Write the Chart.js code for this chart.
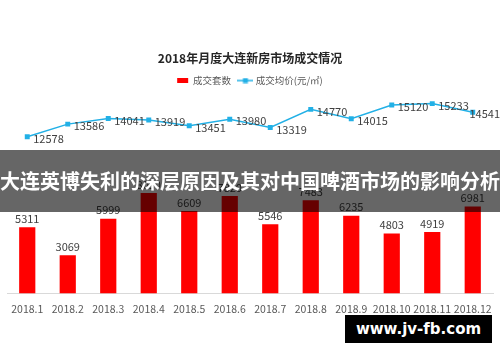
<!DOCTYPE html>
<html>
<head>
<meta charset="utf-8">
<script src="https://cdn.jsdelivr.net/npm/chart.js@4"></script>
<style>
    html, body { margin: 0; padding: 0; background: #fff; }
    #contenedor { position: relative; width: 500px; height: 362px; overflow: hidden; }
    #banda {
        position: absolute; left: 0; top: 150px; width: 500px; height: 62px;
        background: rgba(0, 0, 0, 0.6); color: #fff;
        font: bold 20px "Noto Sans CJK SC"; line-height: 62px;
        text-align: center; white-space: nowrap;
    }
    #marca {
        position: absolute; left: 345px; top: 315px; width: 147px; height: 28px;
        background: #000; color: #fff;
        font: bold 15px "DejaVu Sans"; line-height: 28px; text-align: center;
    }
</style>
</head>
<body>
<div id="contenedor">
    <canvas id="grafico" width="500" height="362"></canvas>
    <div id="banda">大连英博失利的深层原因及其对中国啤酒市场的影响分析</div>
    <div id="marca">www.jv-fb.com</div>
</div>
<script>
// Datos del gráfico
const meses = ['2018.1', '2018.2', '2018.3', '2018.4', '2018.5', '2018.6', '2018.7', '2018.8', '2018.9', '2018.10', '2018.11', '2018.12'];
const ventas = [5311, 3069, 5999, 8050, 6609, 7820, 5546, 7483, 6235, 4803, 4919, 6981];
const precios = [12578, 13586, 14041, 13919, 13451, 13980, 13319, 14770, 14015, 15120, 15233, 14541];
const nombres = ['成交套数', '成交均价(元/㎡)'];
const titulo = '2018年月度大连新房市场成交情况';

const rojo = '#ff0000';
const azul = '#22b0e6';
const fuente = '"Noto Sans CJK SC"';

// Icono de la leyenda para la línea (línea con marcador cuadrado)
const icono = document.createElement('canvas');
icono.width = 16;
icono.height = 6;
const ic = icono.getContext('2d');
ic.strokeStyle = azul;
ic.lineWidth = 1.5;
ic.beginPath();
ic.moveTo(0, 3);
ic.lineTo(16, 3);
ic.stroke();
ic.fillStyle = azul;
ic.fillRect(5.5, 0.5, 5, 5);

// Etiquetas de valores sobre barras y puntos
const etiquetas = {
    id: 'etiquetas',
    afterDatasetsDraw(chart) {
        const ctx = chart.ctx;
        ctx.save();
        ctx.font = '11px ' + fuente;
        ctx.fillStyle = '#404040';
        chart.getDatasetMeta(0).data.forEach((barra, i) => {
            ctx.textAlign = 'center';
            ctx.textBaseline = 'bottom';
            ctx.fillText(ventas[i], barra.x, barra.y - 3);
        });
        chart.getDatasetMeta(1).data.forEach((punto, i) => {
            const texto = String(precios[i]);
            const ancho = ctx.measureText(texto).width;
            const x = Math.min(punto.x + 6, chart.width - ancho);
            ctx.textAlign = 'left';
            ctx.textBaseline = 'middle';
            ctx.fillText(texto, x, punto.y + 2);
        });
        ctx.restore();
    }
};

const ctx = document.getElementById('grafico').getContext('2d');
new Chart(ctx, {
    type: 'bar',
    data: {
        labels: meses,
        datasets: [{
            type: 'bar',
            label: nombres[0],
            data: ventas,
            backgroundColor: rojo,
            pointStyle: 'rect',
            barPercentage: 0.8,
            categoryPercentage: 0.5
        }, {
            type: 'line',
            label: nombres[1],
            data: precios,
            borderColor: azul,
            backgroundColor: azul,
            borderWidth: 1.5,
            pointStyle: 'rect',
            pointRadius: 3.5,
            pointBackgroundColor: azul,
            pointBorderWidth: 0,
            tension: 0
        }]
    },
    options: {
        responsive: false,
        animation: false,
        layout: { padding: { top: 50, left: 7, right: 7, bottom: 46 } },
        plugins: {
            title: {
                display: true,
                text: titulo,
                color: '#262626',
                font: { family: fuente, size: 12, weight: 'bold', lineHeight: 1.4 },
                padding: { top: 0, bottom: 0 }
            },
            legend: {
                labels: {
                    usePointStyle: true,
                    boxHeight: 5,
                    pointStyleWidth: 11,
                    color: '#595959',
                    font: { family: fuente, size: 9.5 },
                    padding: 9,
                    generateLabels(chart) {
                        const items = Chart.defaults.plugins.legend.labels.generateLabels(chart);
                        items[1].pointStyle = icono;
                        return items;
                    }
                }
            },
            tooltip: { enabled: false }
        },
        scales: {
            x: {
                grid: { display: false },
                border: { color: '#d9d9d9' },
                ticks: { color: '#595959', font: { family: fuente, size: 10.5 }, maxRotation: 0, autoSkip: false, padding: 1 }
            },
            y: { display: false, min: 0, max: 15900 }
        }
    },
    plugins: [etiquetas]
});
</script>
</body>
</html>
